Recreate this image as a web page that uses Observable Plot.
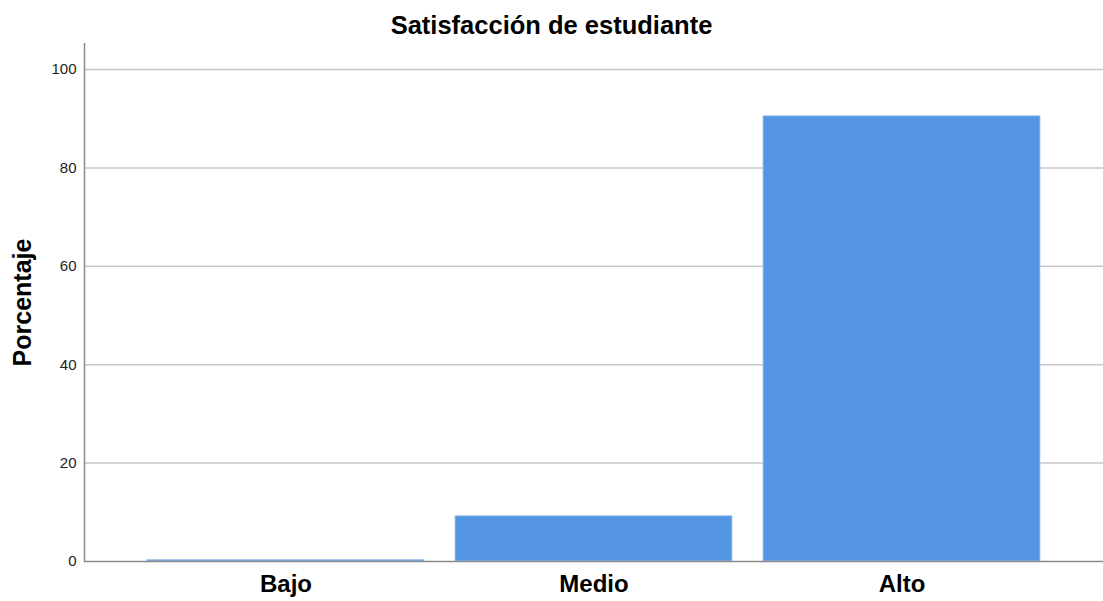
<!DOCTYPE html>
<html>
<head>
<meta charset="utf-8">
<script src="https://cdn.jsdelivr.net/npm/d3@7"></script>
<script src="https://cdn.jsdelivr.net/npm/@observablehq/plot@0.6"></script>
<style>
  html, body { margin: 0; padding: 0; background: #fff; }
  #title { height: 43px; line-height: 50px; text-align: center; font-family: "Liberation Sans", Arial, sans-serif; font-weight: bold; font-size: 25.5px; color: #000; }
  #chart svg { display: block; }
</style>
</head>
<body>
<div id="title">Satisfacción de estudiante</div>
<div id="chart"></div>
<script>
const categories = ["Bajo", "Medio", "Alto"];
const percentages = [0.3, 9.2, 90.5];
const yTicks = [0, 20, 40, 60, 80, 100];
const yLabel = "Porcentaje";

const data = categories.map((c, i) => ({categoria: c, porcentaje: percentages[i]}));

const plot = Plot.plot({
  width: 1103,
  height: 558,
  marginLeft: 84,
  marginRight: 0,
  marginTop: 0,
  marginBottom: 40,
  style: {fontFamily: "'Liberation Sans', Arial, sans-serif", background: "#fff"},
  x: {domain: categories, paddingInner: 0.1, paddingOuter: 0.2, label: null},
  y: {domain: [0, 105.3], label: null},
  marks: [
    Plot.ruleY(yTicks.filter(d => d > 0), {stroke: "#c8c8c8", strokeWidth: 1.5}),
    Plot.barY(data, {x: "categoria", y: "porcentaje", fill: "#5596e3", stroke: "#a9c9f0", strokeWidth: 0.8}),
    Plot.ruleY([0], {stroke: "#8a8a8a", strokeWidth: 1.5}),
    Plot.frame({anchor: "left", stroke: "#8a8a8a", strokeWidth: 1.5}),
    Plot.axisY({ticks: yTicks, tickSize: 0, tickPadding: 8, fontSize: 15, fill: "#222", label: null}),
    Plot.axisX({tickSize: 0, tickPadding: 13, fontSize: 24, fontWeight: "bold", fill: "#000", label: null}),
    Plot.text([yLabel], {frameAnchor: "left", dx: -62, rotate: -90, textAnchor: "middle", fontSize: 25, fontWeight: "bold", fill: "#000", text: d => d})
  ]
});
document.getElementById("chart").appendChild(plot);
</script>
</body>
</html>
